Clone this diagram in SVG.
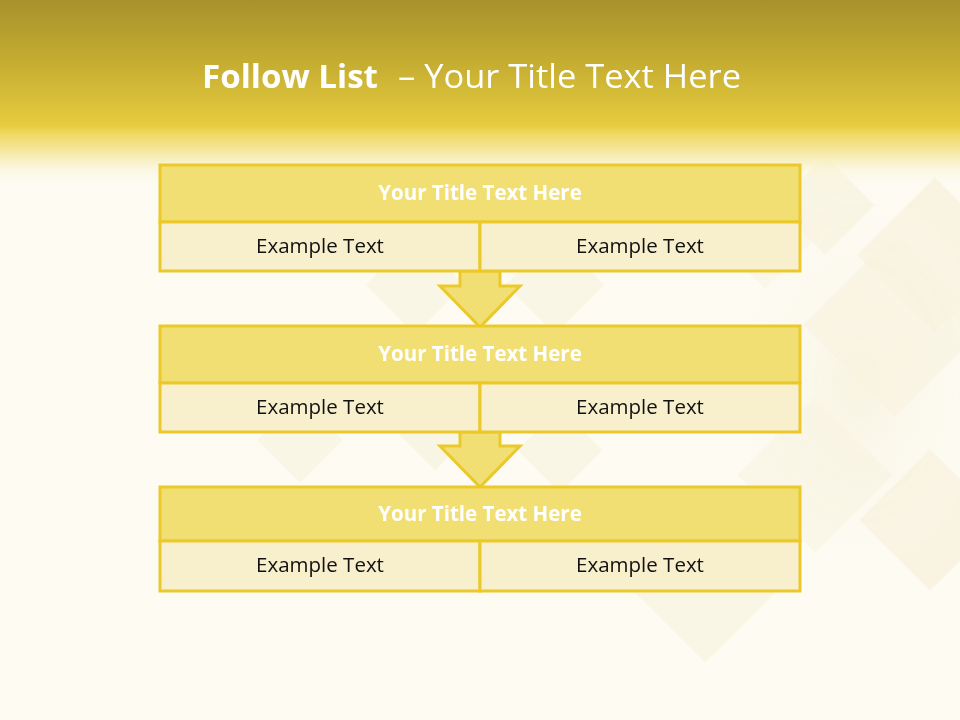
<svg xmlns="http://www.w3.org/2000/svg" width="960" height="720" viewBox="0 0 960 720">
<defs>
<linearGradient id="hdr" x1="0" y1="0" x2="0" y2="1">
<stop offset="0" stop-color="#A8912B"/>
<stop offset="0.35" stop-color="#C6AE32"/>
<stop offset="0.68" stop-color="#E6CC3E"/>
<stop offset="0.72" stop-color="#EFD860"/>
<stop offset="0.85" stop-color="#F7EDB8"/>
<stop offset="1" stop-color="#FDFBF0" stop-opacity="0"/>
</linearGradient>
<radialGradient id="glow" cx="0.5" cy="0.5" r="0.5">
<stop offset="0" stop-color="#EFE6C4" stop-opacity="0.8"/>
<stop offset="1" stop-color="#FDFBF0" stop-opacity="0"/>
</radialGradient>
<style>
.ttl{fill:#F2DF74;stroke:#EBC92A;stroke-width:3}
.cnt{fill:#F8F0CD;stroke:#EBC92A;stroke-width:3}
.arr{fill:#F2DF74;stroke:#EBC92A;stroke-width:3;stroke-linejoin:miter}
.ht{font-family:"Open Sans","Liberation Sans",sans-serif;font-weight:bold;font-size:20.5px;fill:#FFFFFF;text-anchor:middle}
.ct{font-family:"Open Sans","Liberation Sans",sans-serif;font-size:20.5px;fill:#111111;text-anchor:middle}
.hd{font-family:"Open Sans","Liberation Sans",sans-serif;font-size:33px;fill:#FFFFFF}
.dia{fill:#F1E9C8}
</style>
</defs>
<rect x="0" y="0" width="960" height="720" fill="#FDFBF2"/>
<g id="background" opacity="0.45">
<ellipse cx="860" cy="380" rx="130" ry="190" fill="url(#glow)"/>
<rect class="dia" x="790" y="170" width="70" height="70" transform="rotate(45 825 205)" opacity="0.7"/>
<rect class="dia" x="880" y="200" width="110" height="110" transform="rotate(45 935 255)" opacity="0.8"/>
<rect class="dia" x="720" y="180" width="90" height="90" transform="rotate(45 765 225)" opacity="0.4"/>
<rect class="dia" x="830" y="260" width="130" height="130" transform="rotate(45 895 325)" opacity="0.6"/>
<rect class="dia" x="880" y="470" width="100" height="100" transform="rotate(45 930 520)" opacity="0.8"/>
<rect class="dia" x="650" y="530" width="110" height="110" transform="rotate(45 705 585)" opacity="0.6"/>
<rect class="dia" x="760" y="420" width="110" height="110" transform="rotate(45 815 475)" opacity="0.5"/>
<rect class="dia" x="380" y="250" width="70" height="70" transform="rotate(45 415 285)" fill="#EDEEDD" opacity="0.6"/>
<rect class="dia" x="520" y="250" width="70" height="70" transform="rotate(45 555 285)" fill="#EDEEDD" opacity="0.6"/>
<rect class="dia" x="270" y="410" width="60" height="60" transform="rotate(45 300 440)" fill="#EDEEDD" opacity="0.6"/>
<rect class="dia" x="410" y="410" width="50" height="50" transform="rotate(45 435 435)" fill="#E8EADA" opacity="0.7"/>
<rect class="dia" x="530" y="420" width="60" height="60" transform="rotate(45 560 450)" fill="#EDEEDD" opacity="0.6"/>
</g>
<rect x="0" y="0" width="960" height="185" fill="url(#hdr)"/>
<text class="hd" x="202" y="88" font-weight="bold" textLength="176" lengthAdjust="spacingAndGlyphs">Follow List</text>
<text class="hd" x="398" y="88" textLength="343" lengthAdjust="spacingAndGlyphs">– Your Title Text Here</text>
<g id="connectors">
<path class="arr" d="M460,271 L500,271 L500,286 L520,286 L480,327 L440,286 L460,286 Z"/>
<path class="arr" d="M460,432 L500,432 L500,446 L520,446 L480,487 L440,446 L460,446 Z"/>
</g>
<g id="node1">
<rect class="ttl" x="160" y="165" width="640" height="57"/>
<rect class="cnt" x="160" y="222" width="320" height="49"/>
<rect class="cnt" x="480" y="222" width="320" height="49"/>
<text class="ht" x="480" y="200">Your Title Text Here</text>
<text class="ct" x="320" y="253">Example Text</text>
<text class="ct" x="640" y="253">Example Text</text>
</g>
<g id="node2">
<rect class="ttl" x="160" y="326" width="640" height="57"/>
<rect class="cnt" x="160" y="383" width="320" height="49"/>
<rect class="cnt" x="480" y="383" width="320" height="49"/>
<text class="ht" x="480" y="361">Your Title Text Here</text>
<text class="ct" x="320" y="414">Example Text</text>
<text class="ct" x="640" y="414">Example Text</text>
</g>
<g id="node3">
<rect class="ttl" x="160" y="487" width="640" height="54"/>
<rect class="cnt" x="160" y="541" width="320" height="50"/>
<rect class="cnt" x="480" y="541" width="320" height="50"/>
<text class="ht" x="480" y="521">Your Title Text Here</text>
<text class="ct" x="320" y="572">Example Text</text>
<text class="ct" x="640" y="572">Example Text</text>
</g>
</svg>
